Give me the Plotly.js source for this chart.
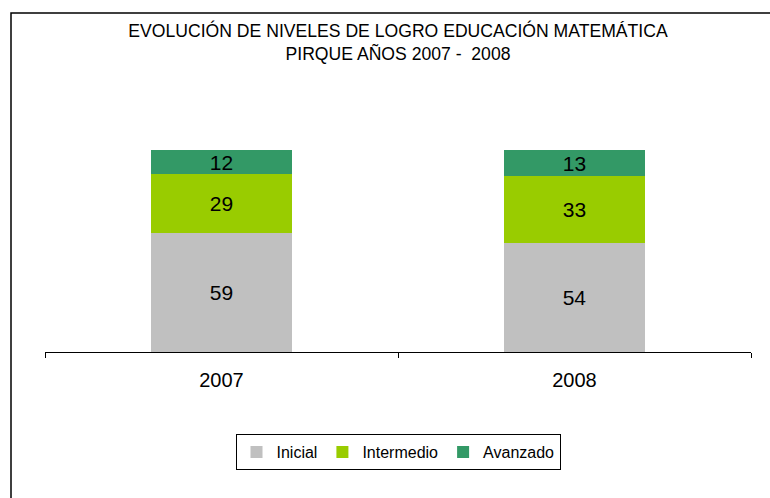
<!DOCTYPE html>
<html>
<head>
<meta charset="utf-8">
<script src="https://cdn.plot.ly/plotly-3.0.1.min.js"></script>
<style>html,body{margin:0;padding:0;background:#fff}#chart{width:770px;height:498px}</style>
</head>
<body>
<div id="chart"></div>
<script>
const years = ['2007', '2008'];
const inicial = [59, 54];
const intermedio = [29, 33];
const avanzado = [12, 13];
const seriesNames = ['Inicial', 'Intermedio', 'Avanzado'];
const colors = ['#C0C0C0', '#99CC00', '#339966'];

const L = 45, R = 751, T = 150, B = 352, W = 770, H = 498;
const vals = [inicial, intermedio, avanzado];
const traces = vals.map((v, i) => ({
  type: 'bar',
  name: seriesNames[i],
  x: years,
  y: v,
  text: v.map(String),
  textposition: 'inside',
  insidetextanchor: 'middle',
  textfont: {family: 'Liberation Sans, Arial, sans-serif', size: 21, color: '#000'},
  constraintext: 'none',
  marker: {color: colors[i], line: {width: 0}},
  hoverinfo: 'none'
}));

const pw = R - L, ph = B - T;
const layout = {
  width: W, height: H,
  margin: {l: L, r: W - R, t: T, b: H - B, pad: 0},
  paper_bgcolor: '#fff', plot_bgcolor: '#fff',
  barmode: 'stack',
  bargap: 0.6,
  font: {family: 'Liberation Sans, Arial, sans-serif', color: '#000'},
  title: {
    text: 'EVOLUCIÓN DE NIVELES DE LOGRO EDUCACIÓN MATEMÁTICA<br>PIRQUE AÑOS 2007 -  2008',
    font: {family: 'Liberation Sans, Arial, sans-serif', size: 17.6, color: '#000'},
    x: 0.5, xref: 'paper', xanchor: 'center',
    y: 1 - 37 / H, yref: 'container', yanchor: 'top'
  },
  xaxis: {
    type: 'category',
    showline: true, linecolor: '#000', linewidth: 1,
    ticks: 'outside', tickson: 'boundaries', ticklen: 5, tickcolor: '#000', tickwidth: 1,
    tickfont: {size: 20, color: '#000'},
    ticklabelstandoff: 10,
    showgrid: false, zeroline: false, fixedrange: true
  },
  yaxis: {
    range: [0, 100], visible: false, showgrid: false, zeroline: false, fixedrange: true
  },
  showlegend: true,
  legend: {
    orientation: 'h', traceorder: 'normal',
    x: 0.5, xanchor: 'center', xref: 'paper',
    y: (B - 452) / ph, yanchor: 'middle',
    bordercolor: '#000', borderwidth: 1, bgcolor: '#fff',
    font: {size: 16, color: '#000'},
    itemwidth: 30
  },
  shapes: [{
    type: 'rect', xref: 'paper', yref: 'paper', layer: 'below',
    x0: (11 - L) / pw, x1: (W + 20 - L) / pw,
    y0: (B - (H + 20)) / ph, y1: (B - 13) / ph,
    line: {color: '#000', width: 1.5}, fillcolor: 'rgba(0,0,0,0)'
  }]
};

Plotly.newPlot('chart', traces, layout, {displayModeBar: false, staticPlot: true});
</script>
</body>
</html>
